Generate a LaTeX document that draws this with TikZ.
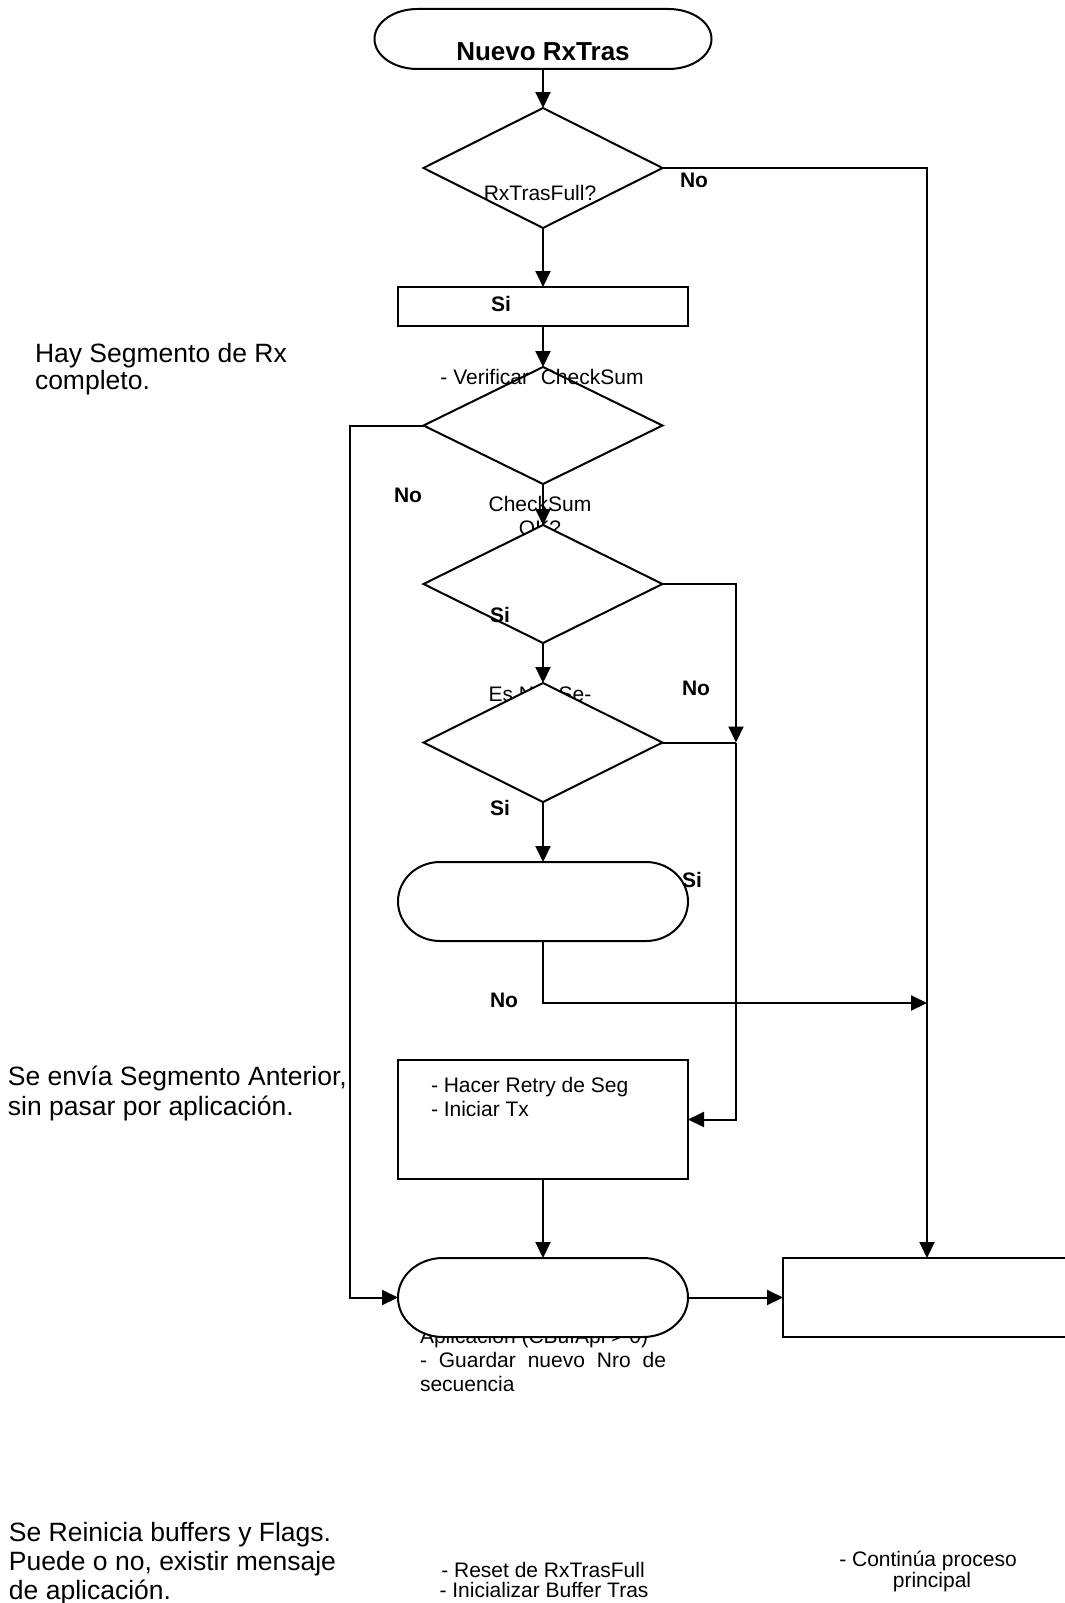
\documentclass[tikz,border=0pt]{standalone}
\usepackage{fontspec}
\setmainfont{Liberation Sans}
\usetikzlibrary{arrows.meta,shapes.geometric,calc}
\newcommand\mystadium[3]{%
  \filldraw[line width=2pt,fill=white] ($(#1.north west)+(#2pt,0pt)$) -- ($(#1.north east)+(-#2pt,0pt)$)
    arc[start angle=90,end angle=-90,x radius=#2pt,y radius=#3pt]
    -- ($(#1.south west)+(#2pt,0pt)$)
    arc[start angle=270,end angle=90,x radius=#2pt,y radius=#3pt] -- cycle;}
\begin{document}
\begin{tikzpicture}[x=1pt,y=-1pt,
  every node/.style={outer sep=0pt},
  line/.style={line width=2pt},
  arr/.style={line width=2pt,-{Triangle[length=16pt,width=15pt]}},
  box/.style={draw,line width=2pt,fill=white,rectangle,inner sep=0pt},
  dec/.style={draw,line width=2pt,fill=white,diamond,inner sep=0pt,minimum width=239pt,minimum height=119pt},
  ghost/.style={rectangle,inner sep=0pt},
  txt/.style={inner sep=0pt,font=\fontsize{21}{24}\selectfont},
  lbl/.style={inner sep=0pt,font=\fontsize{21}{24}\selectfont\bfseries},
  note/.style={inner sep=0pt,font=\fontsize{26.5}{30}\selectfont},
  title/.style={inner sep=0pt,font=\fontsize{26}{30}\selectfont\bfseries},
]
\useasboundingbox (0,0) rectangle (1065,1603);
\clip (0,0) rectangle (1065,1603);

% start terminal
\node[ghost,minimum width=337pt,minimum height=60pt] (start) at (543,39) {};
\mystadium{start}{43}{30}
\node[title,anchor=base] (tNuevo) at (543,60) {Nuevo RxTras};

% decision 1
\node[dec,minimum height=120pt] (d1) at (543,168) {};
\node[txt,anchor=base] (tRxFull) at (540,200) {RxTrasFull?};

% Si box
\node[box,minimum width=290pt,minimum height=39pt] (rSi) at (543,306.5) {};

% decision 2
\node[dec,minimum height=117pt] (d2) at (543,425.5) {};
\node[txt,anchor=base] (tVerif) at (542,384) {- Verificar\ \ CheckSum};
\node[txt,anchor=base] (tCS1) at (540,511) {CheckSum};
\node[txt,anchor=base] (tCS2) at (540,535) {OK?};

% decision 3
\node[dec,minimum height=118pt] (d3) at (543,584) {};
\node[txt,anchor=base] (tEs) at (540,701) {Es Nro Se-};

% decision 4
\node[dec] (d4) at (543,742.5) {};

% terminal 2
\node[ghost,minimum width=290pt,minimum height=79pt] (t2) at (543,901.5) {};
\mystadium{t2}{42}{39.5}

% retry box
\node[box,minimum width=290pt,minimum height=119pt] (r3) at (543,1119.5) {};
\node[txt,anchor=base west] (tRetry1) at (431,1092) {- Hacer Retry de Seg};
\node[txt,anchor=base west] (tRetry2) at (431,1116) {- Iniciar Tx};

% terminal 3 with overflowing text
\node[txt,anchor=base west] (tApl1) at (420,1343) {Aplicación (CBufApl > 0)};
\node[txt,anchor=base west] (tApl2) at (420,1367) {\makebox[246pt][s]{- Guardar nuevo Nro de}};
\node[txt,anchor=base west] (tApl3) at (420,1391) {secuencia};
\node[ghost,minimum width=290pt,minimum height=79pt] (t3) at (543,1297.5) {};
\mystadium{t3}{45}{39.5}

% right box
\node[box,minimum width=288pt,minimum height=79pt] (r4) at (927,1297.5) {};

% connectors
\coordinate (jl) at (350,425.5);
\coordinate (j1) at (736,742.5);
\coordinate (j2) at (927,1003);
\draw[arr] (start.south) -- (d1.north);
\draw[arr] (d1.south) -- (rSi.north);
\draw[arr] (d1.east) -| (r4.north);
\draw[arr] (rSi.south) -- (d2.north);
\draw[arr] (d2.west) -- (jl) |- (t3.west);
\draw[arr] (d2.south) -- (d3.north);
\draw[arr] (d3.east) -| (j1);
\draw[line] (d4.east) -- (j1);
\draw[arr] (j1) |- (r3.east);
\draw[arr] (d3.south) -- (d4.north);
\draw[arr] (d4.south) -- (t2.north);
\draw[arr] (t2.south) |- (j2);
\draw[arr] (r3.south) -- (t3.north);
\draw[arr] (t3.east) -- (r4.west);

% labels
\node[lbl,anchor=base] (lNo1) at (694,187) {No};
\node[lbl,anchor=base] (lSi1) at (501,311) {Si};
\node[lbl,anchor=base] (lNo2) at (408,502) {No};
\node[lbl,anchor=base] (lSi2) at (500,622) {Si};
\node[lbl,anchor=base] (lNo3) at (696,695) {No};
\node[lbl,anchor=base] (lSi3) at (500,815) {Si};
\node[lbl,anchor=base] (lSi4) at (692,887) {Si};
\node[lbl,anchor=base] (lNo4) at (504,1007) {No};

% annotations
\node[note,anchor=base west] (aHay1) at (35,362) {Hay Segmento de Rx};
\node[note,anchor=base west] (aHay2) at (35,389) {completo.};
\node[note,anchor=base west] (aEnv1) at (8,1085) {Se envía Segmento Anterior,};
\node[note,anchor=base west] (aEnv2) at (8,1115) {sin pasar por aplicación.};
\node[note,anchor=base west] (aRe1) at (9,1541) {Se Reinicia buffers y Flags.};
\node[note,anchor=base west] (aRe2) at (9,1570) {Puede o no, existir mensaje};
\node[note,anchor=base west] (aRe3) at (9,1599) {de aplicación.};
\node[txt,anchor=base] (bRes1) at (543,1577) {- Reset de RxTrasFull};
\node[txt,anchor=base] (bRes2) at (544,1597) {- Inicializar Buffer Tras};
\node[txt,anchor=base] (bCon1) at (928,1566) {- Continúa proceso};
\node[txt,anchor=base] (bCon2) at (932,1587) {principal};
\end{tikzpicture}
\end{document}
